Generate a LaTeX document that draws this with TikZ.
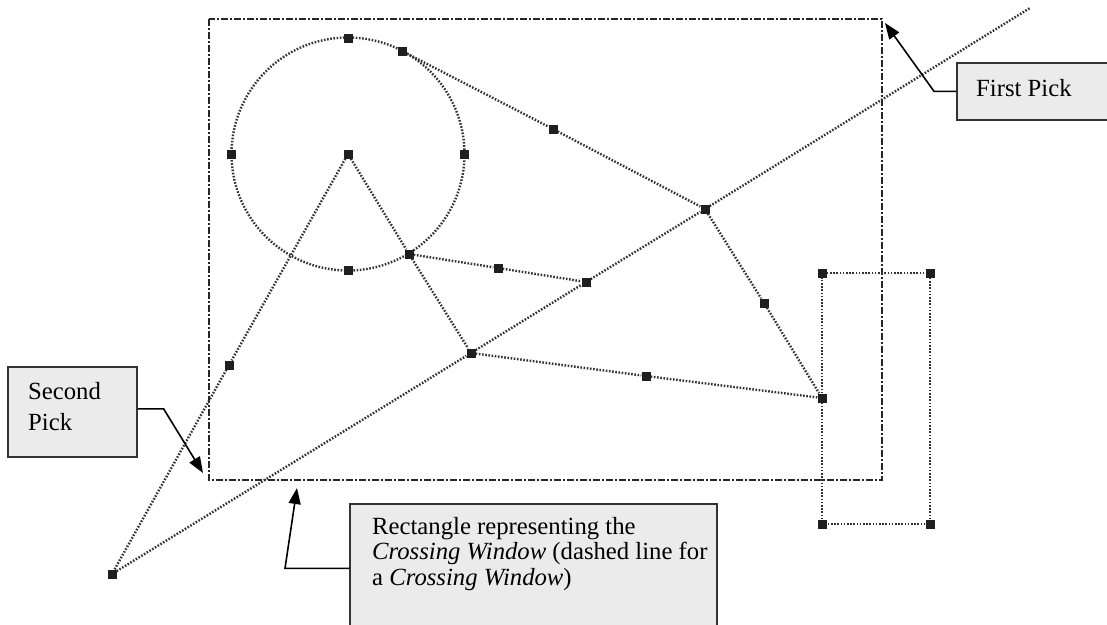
\documentclass[tikz,border=0pt]{standalone}
\usepackage{fontspec}
\setmainfont{Liberation Serif}[ItalicFont={Liberation Serif Italic}]
\usetikzlibrary{arrows.meta}
\begin{document}
\begin{tikzpicture}[x=1pt,y=-1pt,
  grip/.style={rectangle,fill=black!88,inner sep=0pt,minimum size=9pt},
  dotline/.style={draw=black!80,line width=2.4pt,dash pattern=on 1.6pt off 1.6pt},
  winline/.style={draw=black!85,line width=2.6pt,dash pattern=on 7pt off 2pt on 2pt off 2pt},
  callbox/.style={rectangle,draw=black!80,line width=1.6pt,fill=black!8,inner sep=0pt},
  calltext/.style={inner sep=0pt,font=\fontsize{24.7}{25.5}\selectfont,align=left},
  callarrow/.style={draw=black,line width=1.6pt,-{Triangle[length=16pt,width=12pt]}}]
\useasboundingbox (0,0) rectangle (1107,624);
% crossing window
\draw[winline] (209,19) rectangle (882,480);
% circle
\node[grip] (c) at (348,154) {};
\draw[dotline] (c.center) circle[radius=116.5];
\node[grip] (ct) at (348,38) {};
\node[grip] (cl) at (231,154) {};
\node[grip] (cr) at (464,154) {};
\node[grip] (cb) at (348,270) {};
\node[grip] (t1) at (402,51) {};
\node[grip] (b2) at (409,254) {};
% other grips
\node[grip] (m1) at (553,129) {};
\node[grip] (j) at (705,209) {};
\node[grip] (m2) at (764,303) {};
\node[grip] (q) at (822,398) {};
\node[grip] (m3) at (498,268) {};
\node[grip] (k) at (586,282) {};
\node[grip] (h) at (471,353) {};
\node[grip] (m4) at (646,376) {};
\node[grip] (m5) at (229,365) {};
\node[grip] (p0) at (112,574) {};
\coordinate (lend) at (1030,8);
% small rectangle
\node[grip] (r1) at (822,273) {};
\node[grip] (r2) at (930,273) {};
\node[grip] (r3) at (930,524) {};
\node[grip] (r4) at (822,524) {};
% connectors
\draw[dotline] (t1) -- (m1) -- (j);
\draw[dotline] (j) -- (m2) -- (q);
\draw[dotline] (b2) -- (m3) -- (k);
\draw[dotline] (c) -- (b2) -- (h);
\draw[dotline] (h) -- (m4) -- (q);
\draw[dotline] (c) -- (m5) -- (p0);
\draw[dotline] (p0) -- (h) -- (k) -- (j) -- (lend);
\draw[dotline] (r1) -- (r2) -- (r3) -- (r4) -- (q) -- (r1);
% callouts
\node[callbox,anchor=north west,minimum width=170pt,minimum height=57pt] (fp) at (956,62) {};
\node[calltext,anchor=base west] (fpt) at (976,96) {First Pick};
\node[callbox,anchor=north west,minimum width=129pt,minimum height=90pt] (sp) at (7,366) {};
\node[calltext,anchor=base west,font=\fontsize{24.7}{31}\selectfont] (spt) at (28,430) {Second\\Pick};
\node[callbox,anchor=north west,minimum width=367pt,minimum height=125pt] (cw) at (349,503) {};
\node[calltext,anchor=base west] (cwt) at (372,585) {Rectangle representing the\\\textit{Crossing Window} (dashed line for\\a \textit{Crossing Window})};
\coordinate (tipA) at (885,23);
\coordinate (tipB) at (203,473);
\coordinate (tipC) at (297,488);
\draw[callarrow] (fp.west) -- ++(-22,0) -- (tipA);
\draw[callarrow] ([yshift=3pt]sp.east) -- ++(26,0) -- (tipB);
\draw[callarrow] ([yshift=-2pt]cw.west) -- ++(-64,0) -- (tipC);
\end{tikzpicture}
\end{document}
